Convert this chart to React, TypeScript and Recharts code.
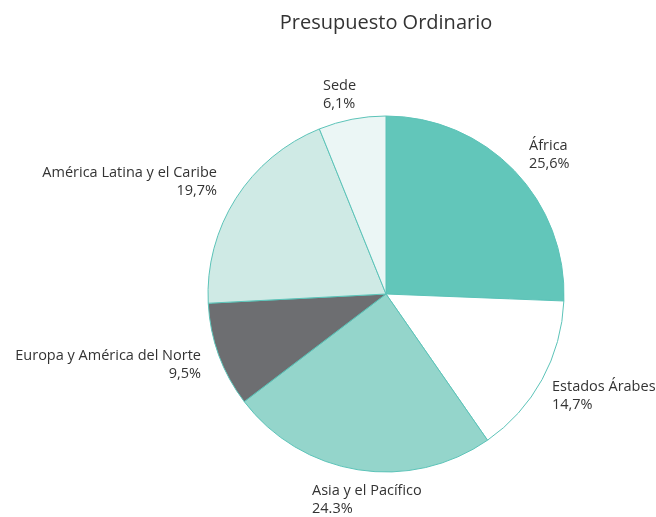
import { Cell, Pie, PieChart } from "recharts";

const regions = [
  "África",
  "Estados Árabes",
  "Asia y el Pacífico",
  "Europa y América del Norte",
  "América Latina y el Caribe",
  "Sede",
];
const shares = [25.6, 14.7, 24.3, 9.5, 19.7, 6.1];
const shareLabels = ["25,6%", "14,7%", "24.3%", "9,5%", "19,7%", "6,1%"];

const fills = ["#62c6ba", "#ffffff", "#94d5cb", "#6d6e71", "#cfeae5", "#ebf6f5"];

// where each label sits, relative to the chart
const labelSpots: Record<string, { x: number; y: number; anchor: "start" | "end" }> = {
  "África": { x: 529, y: 150, anchor: "start" },
  "Estados Árabes": { x: 552, y: 391, anchor: "start" },
  "Asia y el Pacífico": { x: 312, y: 495, anchor: "start" },
  "Europa y América del Norte": { x: 201, y: 360, anchor: "end" },
  "América Latina y el Caribe": { x: 217, y: 177, anchor: "end" },
  "Sede": { x: 323, y: 90, anchor: "start" },
};

const data = regions.map((name, i) => ({ name, value: shares[i], pct: shareLabels[i] }));

const font = "'Open Sans', 'Noto Sans', sans-serif";

function renderLabel(props: any) {
  const spot = labelSpots[props.name];
  if (!spot) return null;
  return (
    <text
      x={spot.x}
      y={spot.y}
      textAnchor={spot.anchor}
      fill="#333333"
      fontSize={14.5}
      fontFamily={font}
    >
      <tspan x={spot.x}>{props.name}</tspan>
      <tspan x={spot.x} dy={18}>
        {props.payload.pct}
      </tspan>
    </text>
  );
}

export default function App() {
  return (
    <div style={{ position: "fixed", left: 0, top: 0, width: 656, height: 517, background: "#fff" }}>
      <div
        style={{
          position: "absolute",
          top: 8,
          left: 0,
          width: 772,
          textAlign: "center",
          fontFamily: font,
          fontSize: 20,
          color: "#333",
        }}
      >
        Presupuesto Ordinario
      </div>
      <PieChart width={656} height={517}>
        <Pie
          data={data}
          dataKey="value"
          nameKey="name"
          cx={381}
          cy={289}
          outerRadius={178}
          startAngle={90}
          endAngle={-270}
          stroke="#5cc3b8"
          strokeWidth={1}
          label={renderLabel}
          labelLine={false}
          isAnimationActive={false}
        >
          {data.map((d, i) => (
            <Cell key={d.name} fill={fills[i]} />
          ))}
        </Pie>
      </PieChart>
    </div>
  );
}
